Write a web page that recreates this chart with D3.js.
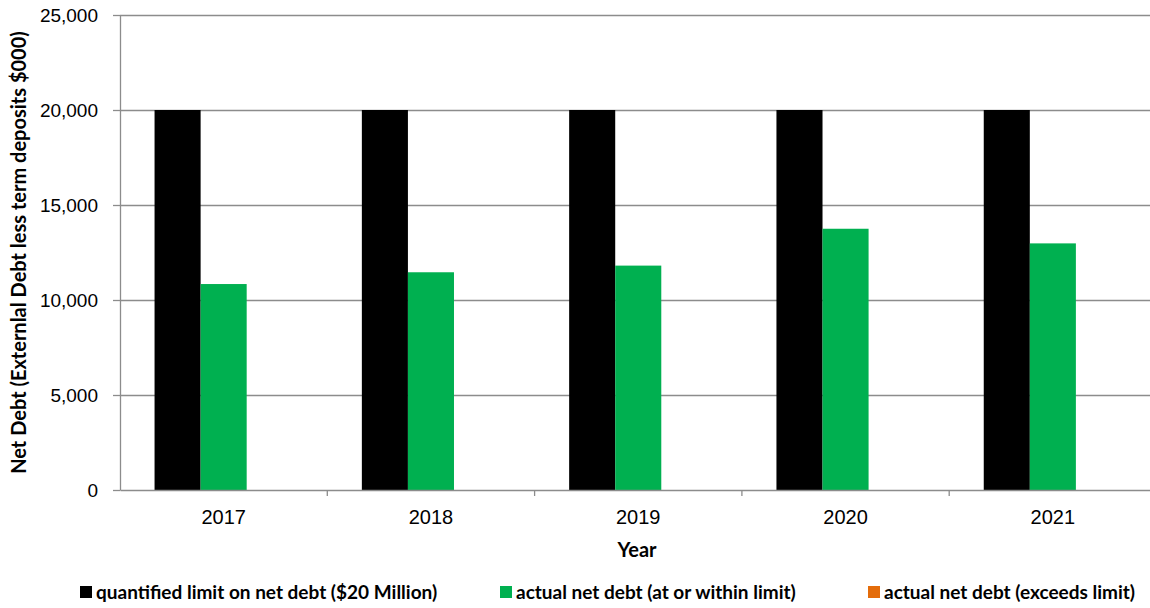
<!DOCTYPE html>
<html>
<head>
<meta charset="utf-8">
<script src="https://cdn.jsdelivr.net/npm/d3@7/dist/d3.min.js"></script>
<style>
  html, body { margin: 0; padding: 0; background: #fff; }
  svg { display: block; font-family: Lato, "Open Sans", sans-serif; }
</style>
</head>
<body>
<svg id="chart" width="1150" height="608"></svg>
<script>
// Net debt by year, in $000
const years = ["2017", "2018", "2019", "2020", "2021"];
const limitValues = [20000, 20000, 20000, 20000, 20000];
const withinValues = [10840, 11460, 11810, 13750, 12980];
const exceedsValues = [0, 0, 0, 0, 0];
const seriesNames = [
  "quantified limit on net debt ($20 Million)",
  "actual net debt (at or within limit)",
  "actual net debt (exceeds limit)"
];
const seriesColors = ["#000000", "#00B050", "#E46C0A"];
const yTicks = [0, 5000, 10000, 15000, 20000, 25000];

const seriesValues = [limitValues, withinValues, exceedsValues];

const svg = d3.select("#chart");
const plotLeft = 120, plotRight = 1156.5, plotTop = 15, plotBottom = 490;

const x = d3.scaleBand().domain(years).range([plotLeft, plotRight]).padding(0);
const xSub = d3.scaleBand().domain(d3.range(seriesNames.length))
  .range([0, x.bandwidth()]).paddingInner(0).paddingOuter(0.75);
const y = d3.scaleLinear().domain([0, 25000]).range([plotBottom, plotTop]);

// horizontal gridlines and y axis
const yAxis = d3.axisLeft(y).tickValues(yTicks).tickSize(7).tickSizeOuter(0)
  .tickFormat(d3.format(","));
const gy = svg.append("g").attr("transform", `translate(${plotLeft},0)`).call(yAxis);
gy.select(".domain").attr("stroke", "#8c8c8c").attr("stroke-width", 1.3);
gy.selectAll(".tick line").attr("stroke", "#8c8c8c").attr("stroke-width", 1.3);
gy.selectAll(".tick text").attr("x", -22).attr("fill", "#000")
  .style("font-size", "19px");
gy.selectAll(".tick").filter(d => d > 0).append("line")
  .attr("x1", 0).attr("x2", 1150 - plotLeft)
  .attr("stroke", "#8c8c8c").attr("stroke-width", 1.3);

// bars
const groups = svg.append("g").selectAll("g").data(years).join("g")
  .attr("transform", d => `translate(${x(d)},0)`);
groups.selectAll("rect")
  .data((d, i) => seriesValues.map((vals, s) => ({ s, v: vals[i] })))
  .join("rect")
  .attr("x", d => xSub(d.s))
  .attr("width", xSub.bandwidth())
  .attr("y", d => y(d.v))
  .attr("height", d => plotBottom - y(d.v))
  .attr("fill", d => seriesColors[d.s]);

// x axis
const xAxis = d3.axisBottom(x).tickSize(0).tickSizeOuter(0);
const gx = svg.append("g").attr("transform", `translate(0,${plotBottom})`).call(xAxis);
gx.select(".domain").attr("stroke", "#8c8c8c").attr("stroke-width", 1.3);
gx.selectAll(".tick text").attr("y", 20).attr("fill", "#000")
  .style("font-size", "20px");
// category separators
svg.append("g").selectAll("line").data(years.slice(1)).join("line")
  .attr("x1", d => x(d)).attr("x2", d => x(d))
  .attr("y1", plotBottom).attr("y2", plotBottom + 6)
  .attr("stroke", "#8c8c8c").attr("stroke-width", 1.3);

// axis titles
svg.append("text")
  .attr("transform", `translate(26,${(plotTop + plotBottom) / 2}) rotate(-90)`)
  .attr("text-anchor", "middle")
  .style("font-size", "20px").style("font-weight", "bold")
  .text("Net Debt (Externlal Debt less term deposits $000)");
svg.append("text")
  .attr("x", 637).attr("y", 557)
  .attr("text-anchor", "middle")
  .style("font-size", "20px").style("font-weight", "bold")
  .text("Year");

// legend
const legendX = [80, 500, 868];
const legend = svg.append("g").selectAll("g").data(seriesNames).join("g")
  .attr("transform", (d, i) => `translate(${legendX[i]},592)`);
legend.append("rect")
  .attr("x", 0).attr("y", -6).attr("width", 12).attr("height", 12)
  .attr("fill", (d, i) => seriesColors[i]);
legend.append("text")
  .attr("x", 16).attr("y", 6.5)
  .style("font-size", "19px").style("font-weight", "bold")
  .text(d => d);
</script>
</body>
</html>
